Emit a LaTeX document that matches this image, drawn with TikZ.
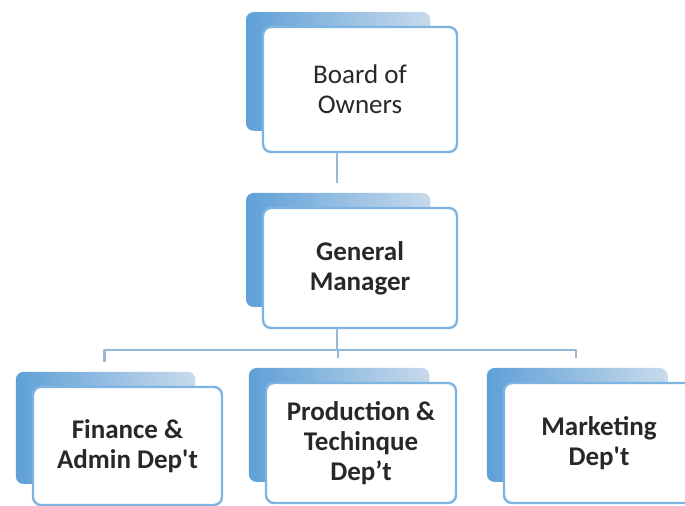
\documentclass[tikz,border=0pt]{standalone}
\usepackage{fontspec}
\setmainfont{Carlito}[Ligatures=TeXOff]
\usetikzlibrary{shadows}
\definecolor{boxline}{RGB}{125,180,225}
\definecolor{shadeL}{RGB}{95,160,215}
\definecolor{shadeR}{RGB}{200,218,236}
\definecolor{linkc}{RGB}{150,185,215}
\definecolor{ink}{RGB}{40,40,40}
\begin{document}
\begin{tikzpicture}[x=0.5pt,y=-0.5pt,font=\fontsize{13.5}{15}\selectfont,
	unit/.style={draw=boxline,line width=1.2pt,fill=white,rounded corners=4pt,
		align=center,text=ink,minimum width=95pt,minimum height=60pt,inner sep=0pt,
		general shadow={shadow xshift=-11.5pt,shadow yshift=9.5pt,shadow scale=0.95,
			left color=shadeL,right color=shadeR,draw=none}},
	bold/.style={font=\fontsize{13.5}{15}\selectfont\bfseries},
	link/.style={draw=linkc,line width=1.3pt,line join=round}]
	\useasboundingbox (0,0) rectangle (685,506);
	% top of the chart
	\node[unit,minimum width=97pt,minimum height=62.5pt] (owners) at (360,89.5) {Board of\\Owners};
	\node[unit,bold,minimum width=97pt] (gm) at (360,268) {General\\Manager};
	% departments
	\node[unit,bold,minimum width=94.5pt,minimum height=59pt] (fin) at (127.5,446) {Finance \&\\Admin Dep't};
	\node[unit,bold] (prod) at (361,443) {Production \&\\Techinque\\Dep’t};
	\node[unit,bold] (mkt) at (599,443) {Marketing\\Dep't};
	% connectors
	\draw[link] ([xshift=-11.5pt]owners.south) -- ([xshift=-11.5pt,yshift=12pt]gm.north);
	\draw[link] ([xshift=-11.5pt]gm.south) -- ++(0,21) coordinate (bus);
	\foreach \d in {fin,prod,mkt}{
		\draw[link] (bus) -| ([xshift=-11.5pt,yshift=12pt]\d.north);
	}
\end{tikzpicture}
\end{document}
